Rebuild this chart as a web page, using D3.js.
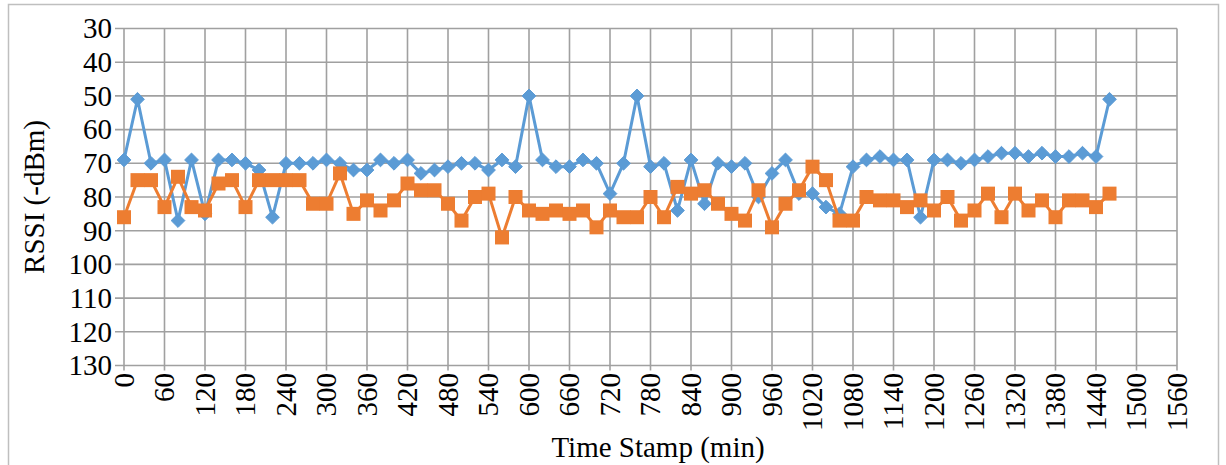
<!DOCTYPE html>
<html>
<head>
<meta charset="utf-8">
<script src="https://cdn.jsdelivr.net/npm/d3@7"></script>
<style>
  html, body { margin: 0; padding: 0; background: #fff; }
  svg { display: block; }
</style>
</head>
<body>
<svg id="chart" width="1226" height="465"></svg>
<script>
// Sampling times (minutes)
const timeStamps = [
  0, 20, 40, 60, 80, 100, 120, 140, 160, 180,
  200, 220, 240, 260, 280, 300, 320, 340, 360, 380,
  400, 420, 440, 460, 480, 500, 520, 540, 560, 580,
  600, 620, 640, 660, 680, 700, 720, 740, 760, 780,
  800, 820, 840, 860, 880, 900, 920, 940, 960, 980,
  1000, 1020, 1040, 1060, 1080, 1100, 1120, 1140, 1160, 1180,
  1200, 1220, 1240, 1260, 1280, 1300, 1320, 1340, 1360, 1380,
  1400, 1420, 1440, 1460
];

// RSSI readings (-dBm), first node
const rssiBlue = [
  69, 51, 70, 69, 87, 69, 85, 69, 69, 70,
  72, 86, 70, 70, 70, 69, 70, 72, 72, 69,
  70, 69, 73, 72, 71, 70, 70, 72, 69, 71,
  50, 69, 71, 71, 69, 70, 79, 70, 50, 71,
  70, 84, 69, 82, 70, 71, 70, 80, 73, 69,
  79, 79, 83, 85, 71, 69, 68, 69, 69, 86,
  69, 69, 70, 69, 68, 67, 67, 68, 67, 68,
  68, 67, 68, 51
];

// RSSI readings (-dBm), second node
const rssiOrange = [
  86, 75, 75, 83, 74, 83, 84, 76, 75, 83,
  75, 75, 75, 75, 82, 82, 73, 85, 81, 84,
  81, 76, 78, 78, 82, 87, 80, 79, 92, 80,
  84, 85, 84, 85, 84, 89, 84, 86, 86, 80,
  86, 77, 79, 78, 82, 85, 87, 78, 89, 82,
  78, 71, 75, 87, 87, 80, 81, 81, 83, 81,
  84, 80, 87, 84, 79, 86, 79, 84, 81, 86,
  81, 81, 83, 79
];

// Axis ticks
const xTicks = d3.range(0, 1561, 60);
const yTicks = [30, 40, 50, 60, 70, 80, 90, 100, 110, 120, 130];

const svg = d3.select("#chart");

const x = d3.scaleLinear().domain([0, 1560]).range([124, 1177]);
const y = d3.scaleLinear().domain([30, 130]).range([28.5, 365.5]);

const gridColor = "#a0a0a0";
const blue = "#5b9bd5";
const orange = "#ed7d31";
const fontSize = 29;
const serif = "'Liberation Serif', Tinos, 'Times New Roman', Times, 'Noto Serif', 'DejaVu Serif', 'Nimbus Roman', FreeSerif, serif";

// Outer chart frame
svg.append("rect")
  .attr("x", 8.5).attr("y", 4.5)
  .attr("width", 1210).attr("height", 480)
  .attr("fill", "none").attr("stroke", "#bfbfbf").attr("stroke-width", 1.5);

// Horizontal gridlines (with left tick stubs)
svg.append("g").selectAll("line").data(yTicks).join("line")
  .attr("x1", 115).attr("x2", x(1560))
  .attr("y1", d => y(d)).attr("y2", d => y(d))
  .attr("stroke", gridColor).attr("stroke-width", 1.6);

// Vertical gridlines (with bottom tick stubs)
svg.append("g").selectAll("line").data(xTicks).join("line")
  .attr("x1", d => x(d)).attr("x2", d => x(d))
  .attr("y1", y(30)).attr("y2", y(130) + 5)
  .attr("stroke", gridColor).attr("stroke-width", 1.6);

// Y tick labels
svg.append("g").selectAll("text").data(yTicks).join("text")
  .attr("x", 112).attr("y", d => y(d))
  .attr("dy", "0.34em")
  .attr("text-anchor", "end")
  .attr("font-family", serif)
  .attr("font-size", fontSize)
  .text(d => d);

// X tick labels, rotated
svg.append("g").selectAll("text").data(xTicks).join("text")
  .attr("transform", d => `translate(${x(d)},373) rotate(-90)`)
  .attr("dy", "0.34em")
  .attr("text-anchor", "end")
  .attr("font-family", serif)
  .attr("font-size", fontSize)
  .text(d => d);

// Axis titles
svg.append("text")
  .attr("transform", "translate(44,197) rotate(-90)")
  .attr("text-anchor", "middle")
  .attr("font-family", serif)
  .attr("font-size", fontSize)
  .text("RSSI (-dBm)");

svg.append("text")
  .attr("x", 658).attr("y", 457)
  .attr("text-anchor", "middle")
  .attr("font-family", serif)
  .attr("font-size", fontSize)
  .text("Time Stamp (min)");

// Series
const blueData = timeStamps.map((t, i) => ({ t, v: rssiBlue[i] }));
const orangeData = timeStamps.map((t, i) => ({ t, v: rssiOrange[i] }));

const line = d3.line().x(d => x(d.t)).y(d => y(d.v));

// Blue series: line + diamond markers
svg.append("path").datum(blueData)
  .attr("d", line).attr("fill", "none")
  .attr("stroke", blue).attr("stroke-width", 3).attr("stroke-linejoin", "round");

const diamond = d3.symbol().type(d3.symbolDiamond2).size(120);
svg.append("g").selectAll("path").data(blueData).join("path")
  .attr("transform", d => `translate(${x(d.t)},${y(d.v)})`)
  .attr("d", diamond).attr("fill", blue).attr("stroke", blue).attr("stroke-width", 1);

// Orange series: line + square markers
svg.append("path").datum(orangeData)
  .attr("d", line).attr("fill", "none")
  .attr("stroke", orange).attr("stroke-width", 3).attr("stroke-linejoin", "round");

svg.append("g").selectAll("rect").data(orangeData).join("rect")
  .attr("x", d => x(d.t) - 7).attr("y", d => y(d.v) - 7)
  .attr("width", 14).attr("height", 14)
  .attr("fill", orange);
</script>
</body>
</html>
